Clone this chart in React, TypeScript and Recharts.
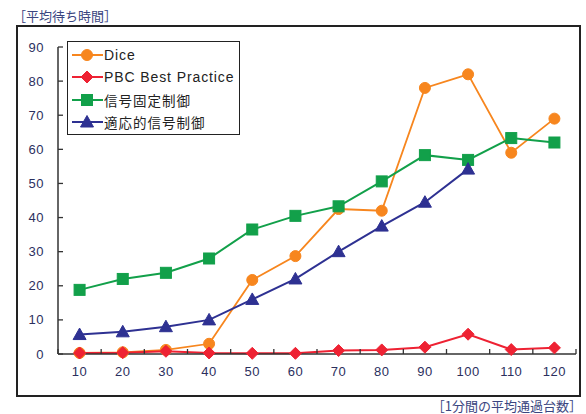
import React from 'react';
import { LineChart, Line, XAxis, YAxis, Legend } from 'recharts';

const categories = [10, 20, 30, 40, 50, 60, 70, 80, 90, 100, 110, 120];
const dice = [0.3, 0.5, 1.2, 3, 21.7, 28.7, 42.5, 42, 78, 82, 59, 69];
const pbc = [0.3, 0.4, 0.8, 0.3, 0.2, 0.2, 1, 1.2, 2, 5.8, 1.3, 1.8];
const fixedSignal = [18.8, 22, 23.8, 28, 36.5, 40.5, 43.3, 50.6, 58.3, 56.9, 63.3, 62];
const adaptiveSignal: (number | null)[] = [5.7, 6.5, 8, 10, 16, 22, 30, 37.5, 44.5, 54.2, null, null];
const yTicks = [0, 10, 20, 30, 40, 50, 60, 70, 80, 90];

const seriesNames = ['Dice', 'PBC Best Practice', '信号固定制御', '適応的信号制御'];
const colors = ['#f7861e', '#ee2233', '#12a04a', '#2e3192'];

const data = categories.map((c, i) => ({
  cat: c,
  dice: dice[i],
  pbc: pbc[i],
  fixed: fixedSignal[i],
  adaptive: adaptiveSignal[i],
}));

const labelColor = '#2b2f5e';
const FONT = '"Liberation Sans", Arial, sans-serif';
const JFONT = '"Noto Sans CJK JP", sans-serif';
const PLOT_W = 518;
const HALF = PLOT_W / categories.length / 2;

function Marker({ kind, cx, cy, color }: { kind: number; cx: number; cy: number; color: string }) {
  if (kind === 0) return <circle cx={cx} cy={cy} r={5.5} fill={color} stroke={color} />;
  if (kind === 1)
    return (
      <polygon
        points={`${cx},${cy - 6} ${cx + 6},${cy} ${cx},${cy + 6} ${cx - 6},${cy}`}
        fill={color}
        stroke={color}
      />
    );
  if (kind === 2) return <rect x={cx - 5.5} y={cy - 5.5} width={11} height={11} fill={color} stroke={color} />;
  return (
    <polygon
      points={`${cx},${cy - 6.5} ${cx + 6.5},${cy + 5} ${cx - 6.5},${cy + 5}`}
      fill={color}
      stroke={color}
    />
  );
}

const makeDot = (kind: number) => (props: any) => {
  const { cx, cy, index, value } = props;
  if (cx == null || cy == null || value == null || Number.isNaN(cy)) return <g key={`d${kind}-${index}`} />;
  return (
    <g key={`d${kind}-${index}`}>
      <Marker kind={kind} cx={cx} cy={cy} color={colors[kind]} />
    </g>
  );
};

const XTick = (props: any) => {
  const { x, y, payload, index } = props;
  const axisY = y - 4;
  return (
    <g>
      <line x1={x - HALF} x2={x - HALF} y1={axisY} y2={axisY - 5} stroke="#333" strokeWidth={1.3} />
      {index === categories.length - 1 && (
        <line x1={x + HALF} x2={x + HALF} y1={axisY} y2={axisY - 5} stroke="#333" strokeWidth={1.3} />
      )}
      <text
        x={x}
        y={y + 18}
        textAnchor="middle"
        fontSize={13}
        letterSpacing={0.5}
        fill={labelColor}
        fontFamily={FONT}
      >
        {payload.value}
      </text>
    </g>
  );
};

const YTick = (props: any) => {
  const { x, y, payload } = props;
  return (
    <g>
      <line x1={x + 14} x2={x + 19} y1={y} y2={y} stroke="#333" strokeWidth={1.3} />
      <text x={x} y={y + 4.5} textAnchor="end" fontSize={13} letterSpacing={0.5} fill={labelColor} fontFamily={FONT}>
        {payload.value}
      </text>
    </g>
  );
};

const LegendContent = () => (
  <div
    style={{
      width: 173,
      height: 94,
      boxSizing: 'border-box',
      border: '1.5px solid #222',
      background: '#fff',
      paddingTop: 2,
    }}
  >
    {seriesNames.map((n, i) => (
      <div key={n} style={{ display: 'flex', alignItems: 'center', height: 22.3 }}>
        <svg width={34} height={16} style={{ marginLeft: 2 }}>
          <line x1={2} x2={33} y1={8} y2={8} stroke={colors[i]} strokeWidth={2} />
          <Marker kind={i} cx={17} cy={8} color={colors[i]} />
        </svg>
        <span
          style={{
            fontFamily: i < 2 ? FONT : JFONT,
            fontSize: i < 2 ? 14 : 13.5,
            letterSpacing: i < 2 ? 0.9 : 1,
            color: '#222',
            whiteSpace: 'nowrap',
            lineHeight: '16px',
          }}
        >
          {n}
        </span>
      </div>
    ))}
  </div>
);

export default function App() {
  return (
    <div style={{ position: 'absolute', left: 0, top: 0, width: 586, height: 414, background: '#fff', overflow: 'hidden' }}>
      <div
        style={{
          position: 'absolute',
          left: 16,
          top: 25,
          width: 565,
          height: 372,
          boxSizing: 'border-box',
          border: '2px solid #222',
        }}
      />
      <div
        style={{
          position: 'absolute',
          left: 13,
          top: 8,
          fontFamily: JFONT,
          fontSize: 13,
          color: '#3a4580',
          lineHeight: '16px',
          whiteSpace: 'nowrap',
        }}
      >
        ［平均待ち時間］
      </div>
      <div
        style={{
          position: 'absolute',
          right: 4,
          top: 399,
          fontFamily: JFONT,
          fontSize: 13,
          color: '#3a4580',
          lineHeight: '14px',
          whiteSpace: 'nowrap',
        }}
      >
        ［1分間の平均通過台数］
      </div>
      <div style={{ position: 'absolute', left: 0, top: 0 }}>
        <LineChart width={586} height={414} data={data} margin={{ top: 47, right: 10, bottom: 30, left: 0 }}>
          <XAxis
            dataKey="cat"
            height={30}
            tick={<XTick />}
            tickLine={false}
            axisLine={{ stroke: '#333', strokeWidth: 1.5 }}
            interval={0}
            tickSize={0}
            tickMargin={4}
            padding={{ left: HALF, right: HALF }}
          />
          <YAxis
            width={58}
            domain={[0, 90]}
            ticks={yTicks}
            tick={<YTick />}
            tickLine={false}
            tickSize={0}
            tickMargin={14}
            axisLine={{ stroke: '#333', strokeWidth: 1.5 }}
            interval={0}
          />
          <Legend
            layout="vertical"
            align="center"
            verticalAlign="middle"
            content={<LegendContent />}
            wrapperStyle={{ left: 67, top: 41, width: 173, height: 94 }}
          />
          <Line dataKey="dice" name="Dice" stroke={colors[0]} strokeWidth={1.8} dot={makeDot(0)} isAnimationActive={false} />
          <Line dataKey="fixed" name="信号固定制御" stroke={colors[2]} strokeWidth={2} dot={makeDot(2)} isAnimationActive={false} />
          <Line dataKey="adaptive" name="適応的信号制御" stroke={colors[3]} strokeWidth={2} dot={makeDot(3)} isAnimationActive={false} />
          <Line dataKey="pbc" name="PBC Best Practice" stroke={colors[1]} strokeWidth={2} dot={makeDot(1)} isAnimationActive={false} />
        </LineChart>
      </div>
    </div>
  );
}
